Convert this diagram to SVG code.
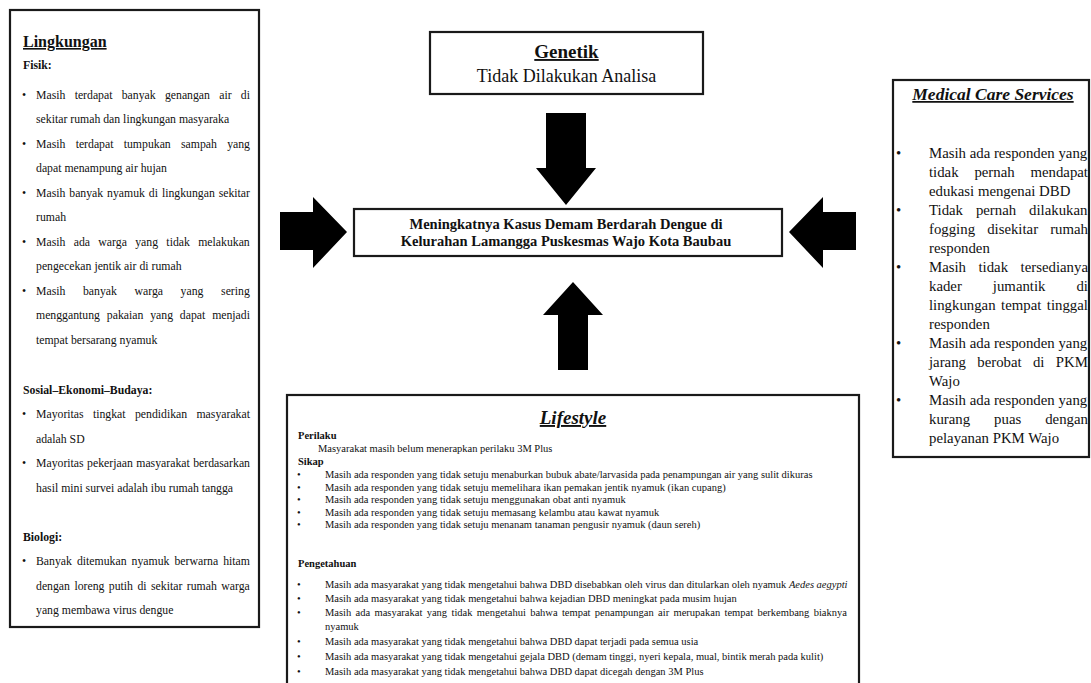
<svg xmlns="http://www.w3.org/2000/svg" width="1091" height="683" viewBox="0 0 1091 683">
<style>
.box{fill:#fff;stroke:#1a1a1a;stroke-width:2.2}
.t{font-family:"Liberation Serif","Times New Roman",serif;fill:#111}
.lb{font-size:11.75px}
.rb{font-size:14.8px}
.ls{font-size:10.5px}
.b{font-weight:bold}
.u{text-decoration:underline}
.i{font-style:italic}
.c{text-anchor:middle}
.arrow{fill:#000}
</style>
<rect width="1091" height="683" fill="#fff"/>

<g id="connectors">
<polygon class="arrow" points="546,113 586,113 586,168 596,168 566,205 536,168 546,168"/>
<polygon class="arrow" points="558,370 588,370 588,315 603,315 573,282 543,315 558,315"/>
<polygon class="arrow" points="280,212 313,212 313,197 347,232 313,268 313,250 280,250"/>
<polygon class="arrow" points="856,212 823,212 823,197 789,232 823,268 823,250 856,250"/>
</g>

<g id="node-lingkungan">
<rect class="box" x="10" y="10" width="249" height="617"/>
<text class="t b u" x="23" y="47" font-size="16">Lingkungan</text>
<text class="t lb b" x="23" y="69">Fisik:</text>
<g class="t lb">
<text x="22" y="98.5">•</text>
<text x="36" y="98.5" word-spacing="6.32">Masih terdapat banyak genangan air di</text>
<text x="36" y="123">sekitar rumah dan lingkungan masyaraka</text>
<text x="22" y="147.5">•</text>
<text x="36" y="147.5" word-spacing="7.32">Masih terdapat tumpukan sampah yang</text>
<text x="36" y="172">dapat menampung air hujan</text>
<text x="22" y="196.5">•</text>
<text x="36" y="196.5" word-spacing="0.96">Masih banyak nyamuk di lingkungan sekitar</text>
<text x="36" y="221">rumah</text>
<text x="22" y="245.5">•</text>
<text x="36" y="245.5" word-spacing="5.4">Masih ada warga yang tidak melakukan</text>
<text x="36" y="270">pengecekan jentik air di rumah</text>
<text x="22" y="294.5">•</text>
<text x="36" y="294.5" word-spacing="14.67">Masih banyak warga yang sering</text>
<text x="36" y="319" word-spacing="3.9">menggantung pakaian yang dapat menjadi</text>
<text x="36" y="343.5">tempat bersarang nyamuk</text>
</g>
<text class="t lb b" x="23" y="393.5">Sosial–Ekonomi–Budaya:</text>
<g class="t lb">
<text x="22" y="418">•</text>
<text x="36" y="418" word-spacing="6.39">Mayoritas tingkat pendidikan masyarakat</text>
<text x="36" y="442.5">adalah SD</text>
<text x="22" y="467">•</text>
<text x="36" y="467" word-spacing="0.53">Mayoritas pekerjaan masyarakat berdasarkan</text>
<text x="36" y="491.5">hasil mini survei adalah ibu rumah tangga</text>
</g>
<text class="t lb b" x="23" y="540.5">Biologi:</text>
<g class="t lb">
<text x="22" y="565">•</text>
<text x="36" y="565" word-spacing="2.1">Banyak ditemukan nyamuk berwarna hitam</text>
<text x="36" y="589.5" word-spacing="1.51">dengan loreng putih di sekitar rumah warga</text>
<text x="36" y="614">yang membawa virus dengue</text>
</g>
</g>

<g id="node-genetik">
<rect class="box" x="430" y="32" width="273" height="62"/>
<text class="t b u c" x="566.5" y="58" font-size="19">Genetik</text>
<text class="t c" x="566.5" y="82" font-size="18">Tidak Dilakukan Analisa</text>
</g>

<g id="node-center">
<rect class="box" x="354" y="209" width="428" height="47"/>
<text class="t b c" x="566" y="228.5" font-size="14.5">Meningkatnya Kasus Demam Berdarah Dengue di</text>
<text class="t b c" x="566" y="246" font-size="14.5">Kelurahan Lamangga Puskesmas Wajo Kota Baubau</text>
</g>

<g id="node-medical">
<rect class="box" x="893" y="80" width="196" height="377"/>
<text class="t b i u c" x="993" y="100" font-size="17.5">Medical Care Services</text>
<g class="t rb">
<text x="896" y="158">•</text>
<text x="929" y="158">Masih ada responden yang</text>
<text x="929" y="177" word-spacing="12.1">tidak pernah mendapat</text>
<text x="929" y="196">edukasi mengenai DBD</text>
<text x="896" y="215">•</text>
<text x="929" y="215" word-spacing="9.2">Tidak pernah dilakukan</text>
<text x="929" y="234" word-spacing="8.4">fogging disekitar rumah</text>
<text x="929" y="253">responden</text>
<text x="896" y="272">•</text>
<text x="929" y="272" word-spacing="8.8">Masih tidak tersedianya</text>
<text x="929" y="291" word-spacing="27.3">kader jumantik di</text>
<text x="929" y="310" word-spacing="1.8">lingkungan tempat tinggal</text>
<text x="929" y="329">responden</text>
<text x="896" y="348">•</text>
<text x="929" y="348">Masih ada responden yang</text>
<text x="929" y="367" word-spacing="7.6">jarang berobat di PKM</text>
<text x="929" y="386">Wajo</text>
<text x="896" y="405">•</text>
<text x="929" y="405">Masih ada responden yang</text>
<text x="929" y="424" word-spacing="20.3">kurang puas dengan</text>
<text x="929" y="443">pelayanan PKM Wajo</text>
</g>
</g>

<g id="node-lifestyle">
<rect class="box" x="287" y="395" width="572" height="300"/>
<text class="t b i u c" x="573" y="424" font-size="19">Lifestyle</text>
<g class="t ls">
<text class="b" x="298" y="439">Perilaku</text>
<text x="318" y="452">Masyarakat masih belum menerapkan perilaku 3M Plus</text>
<text class="b" x="298" y="465">Sikap</text>
<text x="297" y="478">•</text>
<text x="325" y="478">Masih ada responden yang tidak setuju menaburkan bubuk abate/larvasida pada penampungan air yang sulit dikuras</text>
<text x="297" y="490.5">•</text>
<text x="325" y="490.5">Masih ada responden yang tidak setuju memelihara ikan pemakan jentik nyamuk (ikan cupang)</text>
<text x="297" y="503">•</text>
<text x="325" y="503">Masih ada responden yang tidak setuju menggunakan obat anti nyamuk</text>
<text x="297" y="515.5">•</text>
<text x="325" y="515.5">Masih ada responden yang tidak setuju memasang kelambu atau kawat nyamuk</text>
<text x="297" y="528">•</text>
<text x="325" y="528">Masih ada responden yang tidak setuju menanam tanaman pengusir nyamuk (daun sereh)</text>
<text class="b" x="298" y="567">Pengetahuan</text>
<text x="297" y="587.5">•</text>
<text x="325" y="587.5">Masih ada masyarakat yang tidak mengetahui bahwa DBD disebabkan oleh virus dan ditularkan oleh nyamuk <tspan font-style="italic">Aedes aegypti</tspan></text>
<text x="297" y="601.5">•</text>
<text x="325" y="601.5">Masih ada masyarakat yang tidak mengetahui bahwa kejadian DBD meningkat pada musim hujan</text>
<text x="297" y="615.5">•</text>
<text x="325" y="615.5" word-spacing="1.73">Masih ada masyarakat yang tidak mengetahui bahwa tempat penampungan air merupakan tempat berkembang biaknya</text>
<text x="325" y="630">nyamuk</text>
<text x="297" y="644.5">•</text>
<text x="325" y="644.5">Masih ada masyarakat yang tidak mengetahui bahwa DBD dapat terjadi pada semua usia</text>
<text x="297" y="660">•</text>
<text x="325" y="660">Masih ada masyarakat yang tidak mengetahui gejala DBD (demam tinggi, nyeri kepala, mual, bintik merah pada kulit)</text>
<text x="297" y="674.5">•</text>
<text x="325" y="674.5">Masih ada masyarakat yang tidak mengetahui bahwa DBD dapat dicegah dengan 3M Plus</text>
</g>
</g>
</svg>
